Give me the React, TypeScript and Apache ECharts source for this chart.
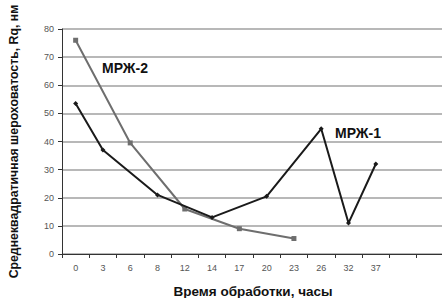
import React, { useEffect, useRef } from "react";
import * as echarts from "echarts";

const categories = ["0", "3", "6", "8", "12", "14", "17", "20", "23", "26", "32", "37", "", ""];
const mrzh1 = [53.5, 37, null, 21, null, 13, null, 20.5, null, 44.5, 11, 32, null, null];
const mrzh2 = [76, null, 39.5, null, 16, null, 9, null, 5.5, null, null, null, null, null];
const yTicks = { min: 0, max: 80, interval: 10 };

const FONT = "Liberation Sans, Arial, sans-serif";

export default function App() {
  const ref = useRef<HTMLDivElement>(null);
  useEffect(() => {
    const chart = echarts.init(ref.current!, null, { renderer: "svg" });
    chart.setOption({
      animation: false,
      textStyle: { fontFamily: FONT },
      grid: { left: 62, right: -2, top: 29, bottom: 44, containLabel: false, outerBoundsMode: "none" },
      xAxis: {
        type: "category",
        data: categories,
        boundaryGap: true,
        name: "Время обработки, часы",
        nameLocation: "middle",
        nameGap: 30,
        nameTextStyle: { fontSize: 13.5, fontWeight: "bold", color: "#111" },
        axisLine: { lineStyle: { color: "#333", width: 1 } },
        axisTick: { show: true, alignWithLabel: false, length: 4, lineStyle: { color: "#333" } },
        axisLabel: { color: "#555", fontSize: 9, margin: 9, interval: 0 },
      },
      yAxis: {
        type: "value",
        min: yTicks.min,
        max: yTicks.max,
        interval: yTicks.interval,
        name: "Среднеквадратичная шероховатость, Rq, нм",
        nameLocation: "middle",
        nameGap: 42,
        nameTextStyle: { fontSize: 12.3, fontWeight: "bold", color: "#111" },
        axisLine: { show: true, lineStyle: { color: "#333", width: 1 } },
        axisTick: { show: true, length: 4, lineStyle: { color: "#333" } },
        axisLabel: { color: "#555", fontSize: 9, margin: 8 },
        splitLine: { lineStyle: { color: "#a0a0a0", width: 1.5 } },
      },
      series: [
        {
          name: "МРЖ-1",
          type: "line",
          data: mrzh1,
          connectNulls: true,
          symbol: "diamond",
          symbolSize: 5,
          lineStyle: { color: "#1a1a1a", width: 2 },
          itemStyle: { color: "#1a1a1a" },
          z: 3,
        },
        {
          name: "МРЖ-2",
          type: "line",
          data: mrzh2,
          connectNulls: true,
          symbol: "rect",
          symbolSize: 5,
          lineStyle: { color: "#6e6e6e", width: 2 },
          itemStyle: { color: "#6e6e6e" },
          z: 2,
        },
      ],
      graphic: [
        {
          type: "text",
          x: 102,
          y: 68,
          style: { text: "МРЖ-2", fontSize: 14, fontWeight: "bold", fill: "#111", fontFamily: FONT, verticalAlign: "middle" },
        },
        {
          type: "text",
          x: 335,
          y: 133,
          style: { text: "МРЖ-1", fontSize: 14, fontWeight: "bold", fill: "#111", fontFamily: FONT, verticalAlign: "middle" },
        },
      ],
    });
    return () => chart.dispose();
  }, []);
  return <div ref={ref} style={{ width: 442, height: 298, position: "absolute", left: 0, top: 0 }} />;
}
